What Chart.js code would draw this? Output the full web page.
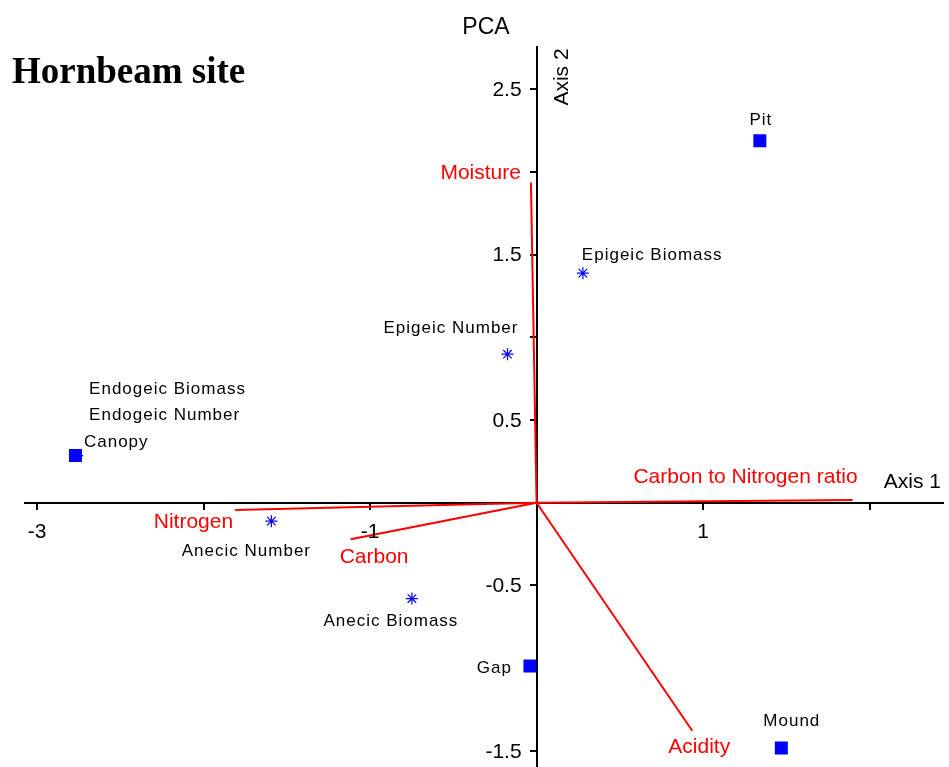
<!DOCTYPE html>
<html>
<head>
<meta charset="utf-8">
<script src="https://cdn.jsdelivr.net/npm/chart.js@4.4.0/dist/chart.umd.min.js"></script>
<style>
  html, body { margin: 0; padding: 0; background: #fff; overflow: hidden; }
  #wrap { width: 952px; height: 775px; }
</style>
</head>
<body>
<div id="wrap"><canvas id="pca"></canvas></div>
<script>
// site scores (blue squares)
var siteNames = ['Pit', 'Canopy', 'Gap', 'Mound'];
var siteX = [1.341, -2.770, -0.040, 1.470];
var siteY = [2.189, 0.285, -0.987, -1.482];

// earthworm variables (blue stars)
var wormNames = ['Epigeic Biomass', 'Epigeic Number', 'Endogeic Biomass', 'Endogeic Number', 'Anecic Number', 'Anecic Biomass'];
var wormX = [0.278, -0.175, -2.760, -2.760, -1.593, -0.749];
var wormY = [1.388, 0.898, 0.285, 0.285, -0.111, -0.579];

// environmental vectors (red lines from origin)
var envNames = ['Moisture', 'Carbon to Nitrogen ratio', 'Nitrogen', 'Carbon', 'Acidity'];
var envX = [-0.034, 1.898, -1.811, -1.117, 0.935];
var envY = [1.936, 0.016, -0.044, -0.221, -1.378];

var xTicks = [-3, -2, -1, 0, 1, 2];
var xTickLabels = ['-3', '', '-1', '', '1', ''];
var yTicks = [-1.5, -1, -0.5, 0, 0.5, 1, 1.5, 2, 2.5];
var yTickLabels = ['-1.5', '', '-0.5', '', '0.5', '', '1.5', '', '2.5'];

// label placement: [dx, dy, align] in pixels from the mark
var siteLabelPos = [[1, -20, 'center'], [8.5, -13.5, 'left'], [-18, 2, 'right'], [10.5, -27, 'center']];
var wormLabelPos = [[-1, -17.5, 'left'], [11, -26, 'right'], [12, -66.5, 'left'], [12, -40.5, 'left'], [-25, 30.5, 'center'], [-21, 22.5, 'center']];
var envLabelPos = [[-10, -9, 'right'], [5, -23, 'right'], [-2, 12, 'right'], [-11, 18, 'left'], [7, 16, 'center']];

var sans = "'Liberation Sans', Arial, sans-serif";
var blue = '#0000ff';
var red = '#ff0000';

function toPoints(xs, ys) {
  var pts = [];
  for (var i in xs) {
    pts.push({x: xs[i], y: ys[i]});
  }
  return pts;
}

var datasets = [
  {
    label: 'Sites',
    data: toPoints(siteX, siteY),
    pointStyle: 'rect',
    pointRadius: 9.2,
    backgroundColor: blue,
    borderWidth: 0
  },
  {
    label: 'Earthworms',
    data: toPoints(wormX, wormY),
    pointStyle: 'star',
    pointRadius: 6,
    borderColor: blue,
    backgroundColor: 'rgba(0,0,0,0)',
    borderWidth: 1.2
  }
];
for (var i in envNames) {
  datasets.push({
    label: envNames[i],
    data: [{x: 0, y: 0}, {x: envX[i], y: envY[i]}],
    showLine: true,
    borderColor: red,
    borderWidth: 2,
    pointRadius: 0
  });
}

function drawText(ctx, text, x, y, font, color, align, spacing) {
  ctx.save();
  ctx.font = font;
  ctx.fillStyle = color;
  ctx.textAlign = align;
  ctx.textBaseline = 'middle';
  ctx.letterSpacing = spacing || '0px';
  ctx.fillText(text, x, y);
  ctx.restore();
}

var labelPlugin = {
  id: 'pcaLabels',
  afterDraw: function(chart) {
    var ctx = chart.ctx;
    var sx = chart.scales.x, sy = chart.scales.y;
    var blackFont = '17px ' + sans;
    var i, p;

    // tick labels next to the centred axes
    var axisX = sx.getPixelForValue(0);
    var axisY = sy.getPixelForValue(0);
    for (i in yTicks) {
      drawText(ctx, yTickLabels[i], axisX - 15, sy.getPixelForValue(yTicks[i]) + 1, '21px ' + sans, '#000', 'right');
    }
    for (i in xTicks) {
      drawText(ctx, xTickLabels[i], sx.getPixelForValue(xTicks[i]), axisY + 29, '21px ' + sans, '#000', 'center');
    }

    for (i in siteNames) {
      p = siteLabelPos[i];
      drawText(ctx, siteNames[i], sx.getPixelForValue(siteX[i]) + p[0], sy.getPixelForValue(siteY[i]) + p[1], blackFont, '#000', p[2], '1px');
    }
    for (i in wormNames) {
      p = wormLabelPos[i];
      drawText(ctx, wormNames[i], sx.getPixelForValue(wormX[i]) + p[0], sy.getPixelForValue(wormY[i]) + p[1], blackFont, '#000', p[2], '1px');
    }
    for (i in envNames) {
      p = envLabelPos[i];
      drawText(ctx, envNames[i], sx.getPixelForValue(envX[i]) + p[0], sy.getPixelForValue(envY[i]) + p[1], '21px ' + sans, red, p[2]);
    }

    // titles
    ctx.save();
    ctx.font = "bold 37px 'Liberation Serif', 'Times New Roman', serif";
    ctx.fillStyle = '#000';
    ctx.textBaseline = 'alphabetic';
    ctx.textAlign = 'left';
    ctx.fillText('Hornbeam site', 12, 83);
    ctx.font = '23px ' + sans;
    ctx.textAlign = 'center';
    ctx.fillText('PCA', 486, 34);
    ctx.font = '21px ' + sans;
    ctx.textAlign = 'right';
    ctx.fillText('Axis 1', 941, 488);
    ctx.translate(568, 77);
    ctx.rotate(-Math.PI / 2);
    ctx.textAlign = 'center';
    ctx.fillText('Axis 2', 0, 0);
    ctx.restore();
  }
};

var ctx = document.getElementById('pca');
var chart = new Chart(ctx, {
  type: 'scatter',
  data: { datasets: datasets },
  options: {
    responsive: true,
    maintainAspectRatio: false,
    animation: false,
    layout: { padding: { left: 25, right: 3, top: 47, bottom: 1 } },
    plugins: {
      legend: { display: false },
      tooltip: { enabled: false }
    },
    scales: {
      x: {
        type: 'linear',
        min: -3.073,
        max: 2.44,
        position: { y: 0 },
        z: 1,
        afterBuildTicks: function(scale) {
          scale.ticks = xTicks.map(function(v) { return {value: v}; });
        },
        afterFit: function(scale) {
          scale.paddingLeft = 0; scale.paddingRight = 0;
          scale.paddingTop = 0; scale.paddingBottom = 0;
        },
        ticks: { display: false },
        grid: { drawOnChartArea: false, tickLength: 6, color: '#000', lineWidth: 2 },
        border: { color: '#000', width: 2 }
      },
      y: {
        type: 'linear',
        min: -1.59,
        max: 2.755,
        position: { x: 0 },
        z: 1,
        afterBuildTicks: function(scale) {
          scale.ticks = yTicks.map(function(v) { return {value: v}; });
        },
        afterFit: function(scale) {
          scale.paddingLeft = 0; scale.paddingRight = 0;
          scale.paddingTop = 0; scale.paddingBottom = 0;
        },
        ticks: { display: false },
        grid: { drawOnChartArea: false, tickLength: 6, color: '#000', lineWidth: 2 },
        border: { color: '#000', width: 2 }
      }
    }
  },
  plugins: [labelPlugin]
});
</script>
</body>
</html>
